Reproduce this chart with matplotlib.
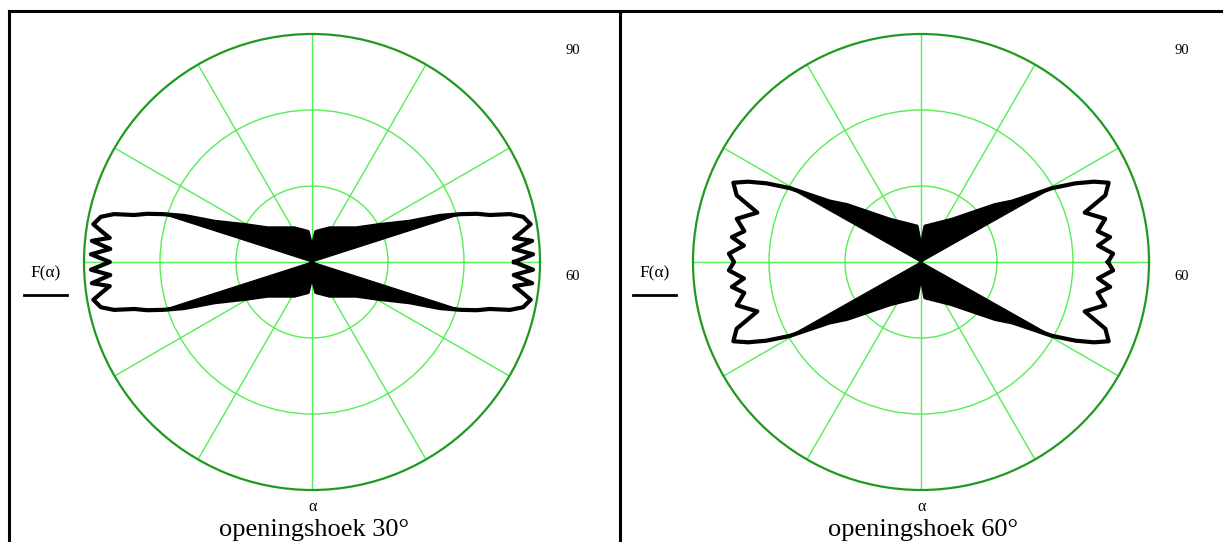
import numpy as np
import matplotlib.pyplot as plt
from matplotlib.lines import Line2D

plt.rcParams['font.family'] = ['Liberation Serif', 'DejaVu Serif']

W, H = 1223, 542

# ---- values ----------------------------------------------------------
# one quarter of a lobe: phi = angle from the lobe axis (deg), F = radial value
# the other three quarters are mirror images
phi_30 = [0.0, 2.0, 3.7, 5.5, 6.8, 8.2, 9.8, 12.1, 13.6, 14.8, 16.3, 17.8, 19.8,
          22.4, 28.7, 37.3, 62.3, 82.0, 85.0, 88.0, 90.0]
F_30 = [86.6, 89.1, 86.6, 89.1, 86.8, 87.9, 89.2, 88.4, 86.8, 84.2, 82.6, 80.6, 77.9,
        73.9, 70.1, 67.3, 65.0, 64.0, 62.6, 60.0, 60.0]
fill_30 = (17.8, 85.0)   # angular range of the solid black core

phi_60 = [0.0, 2.5, 5.3, 7.5, 9.9, 13.2, 16.8, 19.9, 22.9, 24.9, 27.0, 29.4,
          31.1, 33.5, 37.5, 42.8, 53.6, 73.4, 83.0, 86.0, 88.0, 90.0]
F_60 = [84.6, 85.3, 83.4, 85.1, 83.6, 84.9, 82.5, 85.8, 86.8, 85.1, 82.8, 79.8,
        77.1, 74.4, 72.3, 69.7, 66.9, 65.1, 64.7, 62.5, 60.0, 60.0]
fill_60 = (29.4, 86.0)

r_min, r_max = 60, 90
r_rings = [70, 80]
theta_grid = np.arange(0, 360, 30)
titles = ['openingshoek 30°', 'openingshoek 60°']

# ---- layout (pixels) -------------------------------------------------
centers = [(312, 262), (921, 262)]
R = 228


def mirror(phi, F):
    phi = np.asarray(phi)
    F = np.asarray(F)
    th = np.concatenate([phi, 180 - phi[::-1], 180 + phi, 360 - phi[::-1]])
    r = np.concatenate([F, F[::-1], F, F[::-1]])
    return np.deg2rad(th), r


def draw_panel(ax, phi, F, frange):
    phi = np.asarray(phi)
    F = np.asarray(F)
    ax.set_ylim(r_min, r_max)
    ax.set_xticks(np.deg2rad(theta_grid))
    ax.set_xticklabels([])
    ax.set_yticks(r_rings)
    ax.set_yticklabels([])
    ax.grid(True, color='#55ee55', lw=1.0)
    ax.spines['polar'].set_color('#1f9a1f')
    ax.spines['polar'].set_linewidth(1.6)
    ax.set_facecolor('none')

    # solid core (dense oscillation)
    m = (phi >= frange[0]) & (phi <= frange[1])
    for q in [phi[m], 180 - phi[m], 180 + phi[m], 360 - phi[m]]:
        ax.fill(np.r_[0.0, np.deg2rad(q)], np.r_[r_min, F[m]],
                color='black', lw=0.8, zorder=3)

    th, r = mirror(phi, F)
    ax.plot(th, r, color='black', lw=3.0, zorder=4, solid_joinstyle='round')


fig = plt.figure(figsize=(W / 100, H / 100), dpi=100)
bg = fig.add_axes([0, 0, 1, 1])
bg.set_xlim(0, W)
bg.set_ylim(H, 0)
bg.axis('off')

# frame lines
for xs, ys in [([9, 9], [11, H]), ([9, W], [11, 11]), ([620, 620], [11, H])]:
    bg.add_line(Line2D(xs, ys, color='black', lw=2.2))

data = [(phi_30, F_30, fill_30), (phi_60, F_60, fill_60)]
for (cx, cy), (phi, F, fr), title in zip(centers, data, titles):
    ax = fig.add_axes([(cx - R) / W, (H - cy - R) / H, 2 * R / W, 2 * R / H],
                      projection='polar')
    draw_panel(ax, phi, F, fr)

    bg.text(cx + 261, 51, str(r_max), ha='center', va='center', fontsize=10.5)
    bg.text(cx + 261, 277, str(r_min), ha='center', va='center', fontsize=10.5)
    bg.text(cx - 266, 273, 'F(α)', ha='center', va='center', fontsize=12.5)
    bg.add_line(Line2D([cx - 288, cx - 245], [295, 295], color='black', lw=2.0))
    bg.text(cx + 1, 507, 'α', ha='center', va='center', fontsize=11.5)
    bg.text(cx + 2, 530, title, ha='center', va='center', fontsize=19)

fig.savefig('out.png', dpi=100)
